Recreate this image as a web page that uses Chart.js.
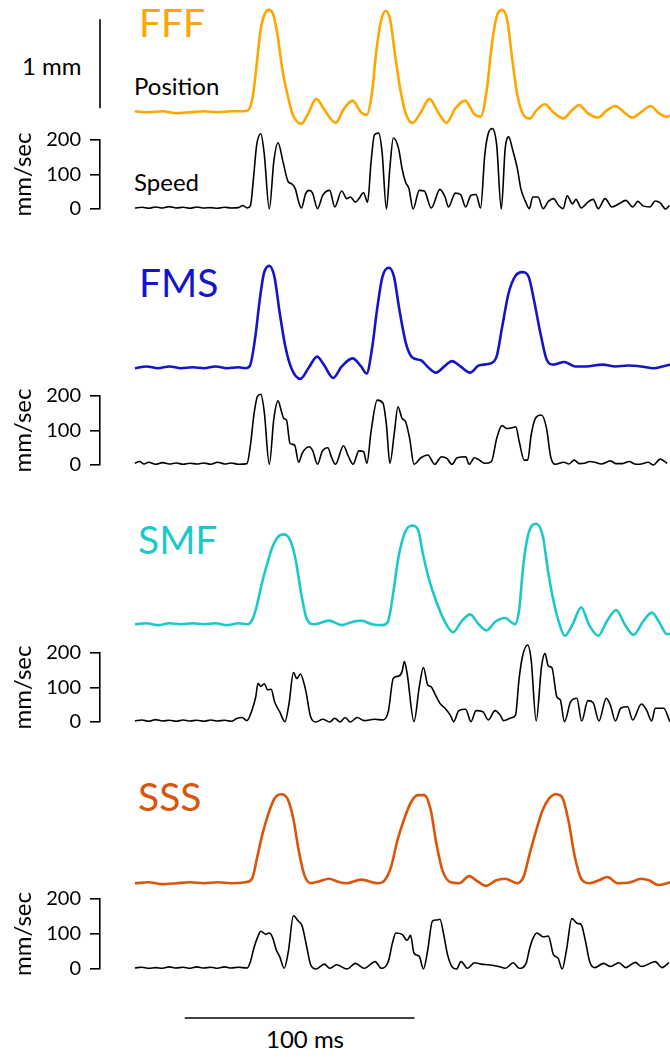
<!DOCTYPE html>
<html>
<head>
<meta charset="utf-8">
<script src="https://cdn.jsdelivr.net/npm/chart.js@4.4.1/dist/chart.umd.min.js"></script>
<style>
  body { margin: 0; background: #fff; }
  #fig { position: relative; width: 670px; height: 1057px; overflow: hidden; font-family: Lato, sans-serif; }
  #fig canvas { position: absolute; left: 0; }
  .lbl { position: absolute; line-height: 1; white-space: nowrap; color: #000; }
  .cond { font-size: 39px; }
  .small { font-size: 24px; }
</style>
</head>
<body>
<div id="fig">
  <div class="lbl cond" style="left:139px;top:3px;color:#FFA600">FFF</div>
  <div class="lbl cond" style="left:139px;top:263px;color:#1414C8">FMS</div>
  <div class="lbl cond" style="left:138px;top:520px;color:#1FC8C8">SMF</div>
  <div class="lbl cond" style="left:138px;top:777px;color:#D9550B">SSS</div>
  <div class="lbl small" style="left:134px;top:74px">Position</div>
  <div class="lbl small" style="left:134px;top:170px">Speed</div>
  <div class="lbl small" style="left:22px;top:54px">1 mm</div>
  <div class="lbl small" style="left:305px;top:1027px;transform:translateX(-50%)">100 ms</div>
</div>
<script>
// [time ms, position mm]
var fffPosition = [[0,0.01],[6,0],[12,0.01],[18,-0.01],[24,0],[30,0.01],[36,0],[42,0.01],[47,0.01],[49.1,0.02],[51.2,0.17],[52.8,0.51],[54.6,0.92],[56.5,1.11],[58.4,1.15],[60.2,1.09],[62.1,0.85],[63.9,0.51],[66.2,0.21],[68.5,-0.02],[72.3,-0.13],[75,-0.03],[78.8,0.15],[82.5,0.02],[87.2,-0.12],[90.9,0.04],[94.6,0.13],[98.3,0],[100.7,-0.03],[103,0.21],[104.8,0.66],[107,1.03],[109.1,1.14],[111,1.03],[113.2,0.62],[115.4,0.25],[117.8,-0.02],[120.6,-0.12],[124.3,0],[128,0.15],[131.8,0],[135.4,-0.12],[139.2,0.04],[143.5,0.13],[147.5,-0.02],[150.3,-0.05],[153.1,0.28],[155,0.73],[157.2,1.07],[159.6,1.15],[161.9,1.03],[163.9,0.62],[166.1,0.21],[168.9,-0.03],[171.7,-0.07],[174.5,0.02],[178.2,0.09],[181.9,0],[186.2,-0.07],[189.9,0.02],[193.1,0.08],[196.8,-0.01],[201.4,-0.06],[205.1,0.02],[208.9,0.07],[212.6,0],[216.3,-0.06],[220,0],[224.1,0.07],[227.8,-0.01],[231.2,-0.05],[232.7,-0.04]];
var fmsPosition = [[0,0],[5,0.02],[10,0],[15,0.02],[20,0],[25,0.01],[30,0],[35,0.02],[40,0],[45,0.01],[48,0],[50,0.03],[52.3,0.35],[54.2,0.76],[56,1.06],[58.4,1.15],[60.6,1.03],[63,0.61],[65.4,0.24],[68,0],[71.9,-0.12],[75.4,0],[79.2,0.13],[82.1,0.04],[86.2,-0.11],[89.9,0.02],[94.6,0.11],[98.3,0.02],[100.7,-0.06],[103,0.21],[105.2,0.65],[107.6,1.03],[110.4,1.13],[112.6,1.03],[115,0.65],[117.8,0.28],[120.6,0.12],[124.3,0.09],[127.1,0.02],[130.8,-0.05],[134.5,0.02],[137.8,0.08],[141.5,0.02],[145.7,-0.05],[149.4,0.03],[154,0.05],[157.2,0.13],[159.6,0.46],[162.4,0.84],[165.2,1.03],[168.4,1.08],[171.1,1.03],[173.5,0.76],[176.3,0.39],[179.1,0.09],[181.9,0.04],[186.6,0.07],[191.3,0.02],[195.9,0.02],[203.3,0.04],[208.9,0.02],[214.4,0.03],[220,0.02],[225.6,0],[229.3,0.02],[232.7,0.04]];
var smfPosition = [[0,0],[5,0.01],[10,-0.01],[15,0.01],[20,0],[25,0.01],[30,0],[35,0.01],[40,-0.01],[45,0.01],[49,0],[50.9,0.045],[52.8,0.19],[55,0.44],[57.5,0.68],[59.8,0.87],[62.1,0.98],[64.9,1.01],[67.7,0.93],[69.9,0.72],[72.3,0.34],[74.7,0.06],[77.9,0],[84.4,0.04],[89.9,-0.01],[93.7,0.02],[98.3,0.04],[103,0],[107.6,-0.01],[110,0.03],[112.2,0.34],[114.6,0.76],[117.5,1.04],[120.6,1.11],[123.1,1.06],[125.2,0.79],[128,0.49],[130.8,0.27],[134.5,0.04],[138.3,-0.09],[141.9,0.03],[145.7,0.11],[149.4,0],[152.7,-0.07],[156.8,0.03],[160.9,0.07],[165.2,0],[167,0.16],[168.9,0.68],[171.1,1.02],[174.5,1.13],[177.4,0.98],[179.5,0.61],[181.9,0.27],[184.7,-0.01],[186.9,-0.13],[190.3,0],[194,0.19],[197.3,0],[201.4,-0.13],[205.1,0.03],[209.2,0.16],[212.9,0],[216.7,-0.12],[220.9,0.03],[224.7,0.13],[228.4,0],[231.2,-0.11],[232.7,-0.11]];
var sssPosition = [[0,0],[6,0.01],[12,-0.01],[18,0],[24,0.01],[30,0],[36,0.01],[42,0],[48,0.01],[50.9,0.05],[53.2,0.3],[55.5,0.56],[58,0.78],[60.6,0.95],[63.6,1.0],[66.3,0.95],[68.8,0.73],[71.3,0.35],[73.8,0.08],[76.6,0],[80,0.02],[84.4,0.05],[88,0.02],[91.8,0],[98.3,0.04],[105.7,0],[108.5,0.03],[111.3,0.18],[114.1,0.48],[116.9,0.71],[120,0.91],[123,0.99],[125.8,0.99],[128.6,0.82],[130.8,0.48],[133.6,0.15],[137.3,0.01],[141,0],[145.3,0.08],[149,0.02],[152.7,-0.03],[156.8,0.03],[160.9,0.05],[166.1,0],[168.9,0.07],[171.7,0.34],[174.5,0.6],[177.2,0.82],[180,0.95],[182.9,1.0],[185.6,0.97],[188.4,0.71],[191.2,0.3],[194,0.05],[197.7,0],[201.4,0.03],[205.5,0.07],[209.8,0],[215.4,0.01],[220,0.05],[223.7,0.03],[227.4,-0.02],[232.7,0.01]];

// [time ms, speed mm/sec]
var fffSpeed = [[0,3],[3,5],[6,2],[9,6],[12,3],[15,7],[18,3],[21,5],[24,2],[27,6],[30,3],[33,4],[36,2],[39,5],[42,3],[45,4],[47,10],[48.8,3],[50.3,10],[51.5,80],[53,185],[54.8,218],[56.3,160],[58.5,0],[60.5,140],[62.3,192],[64.5,136],[66.8,78],[68.3,73],[69.8,59],[71.3,20],[72.5,3],[74.3,44],[75.8,54],[77.3,47],[79.5,1],[81.8,40],[84.8,54],[87,6],[90,52],[92.3,30],[93.8,35],[96,20],[97.5,30],[99.5,47],[101.3,20],[102.8,136],[104.3,215],[106.1,220],[107.6,165],[109.5,0],[111,120],[112.5,206],[114.8,175],[116.3,117],[117.8,78],[119.3,59],[121.1,0],[123.8,54],[126,52],[129,3],[132.8,57],[135,35],[136.5,6],[139.5,46],[141.8,42],[144,6],[146.3,40],[148.5,42],[150.5,3],[152.3,156],[153.8,218],[155.6,233],[157.5,185],[159.5,0],[161.2,175],[162.7,209],[164.5,170],[166.5,117],[168,59],[170,22],[171.7,1],[173.2,35],[175.5,35],[177.7,1],[180,22],[182.2,30],[184.5,10],[186.4,1],[188.2,38],[190.5,15],[192,28],[194.3,3],[197.2,20],[199.5,28],[201.7,1],[204.7,30],[207.7,6],[210.7,15],[213.7,25],[216.7,6],[219,22],[221.2,9],[224.2,6],[226.5,23],[228.7,18],[231,0],[232.7,10]];
var fmsSpeed = [[0,5],[2,10],[4,3],[6,8],[9,2],[12,7],[15,3],[18,6],[21,2],[24,5],[27,3],[30,6],[33,2],[36,8],[39,3],[42,6],[45,2],[48.8,4],[50.3,58],[51.8,145],[53.3,198],[54.8,205],[56.3,155],[58.5,2],[60.5,135],[62.3,186],[63.8,155],[64.8,135],[66,130],[67.5,63],[69.5,58],[71.3,8],[72.8,34],[75.8,53],[77.3,43],[79.5,2],[81.5,39],[84,50],[85.5,24],[87.3,2],[90.8,56],[93,24],[95,2],[97.5,41],[99.5,39],[101,5],[102.8,97],[105.5,188],[108,179],[109.5,116],[111,5],[113,97],[114.5,169],[116.3,135],[117.8,126],[119.6,77],[121.5,2],[124.5,21],[127.5,29],[130.5,2],[133.5,24],[135.8,19],[138,2],[140.3,21],[144,24],[145.5,2],[147.8,21],[150,14],[152.3,5],[155.2,10],[157.5,77],[159.8,114],[162,106],[164.3,108],[165.8,111],[167.3,68],[169.5,14],[171,14],[172.5,87],[174.5,137],[177,145],[179.2,106],[181,24],[183,2],[186.7,8],[189,3],[191.2,14],[193.5,4],[195.7,5],[198,10],[200.2,8],[203,3],[207,12],[209.5,4],[212.2,4],[215.2,10],[217.5,3],[219.7,2],[223.5,8],[225.7,0],[228.7,17],[231.7,5]];
var smfSpeed = [[0,3],[3,6],[6,2],[9,7],[12,3],[15,5],[18,2],[21,6],[24,3],[27,5],[30,2],[33,6],[36,3],[39,5],[42,2],[44.3,10],[46.6,13],[48.8,4],[51,35],[52.6,73],[53.6,112],[54.8,103],[56.3,111],[57.8,93],[59.3,95],[60.8,59],[63,30],[65.3,1],[67.1,54],[69,143],[70.5,126],[72,139],[74.3,93],[76.5,15],[78.8,0],[81.8,8],[84.8,0],[87,11],[89.3,0],[91.5,13],[93.8,0],[96.8,13],[99.8,4],[104.3,8],[108,6],[110.3,30],[112.5,127],[114.8,133],[116.3,146],[117.3,175],[118.5,141],[121.5,1],[123.8,102],[125.6,158],[127.5,107],[129,102],[130.5,83],[132.8,54],[135,40],[137.3,20],[138.8,1],[141,33],[144,37],[146.3,1],[148.5,33],[151.5,30],[153.8,6],[156.8,33],[159,20],[160.5,4],[164.2,13],[165.7,20],[167.2,122],[168.7,189],[171,223],[172.5,180],[174.7,3],[177,160],[178.5,199],[180,162],[181.5,158],[183.7,73],[185.2,64],[187,1],[189.7,59],[192.4,69],[194.5,3],[197.2,62],[199.5,56],[202,3],[205.2,69],[207,49],[209.2,3],[211.5,40],[214.5,44],[216.7,6],[220.5,52],[222.7,35],[225,3],[226.5,40],[230.2,40],[232.9,1]];
var sssSpeed = [[0,3],[3,5],[6,2],[9,4],[12,2],[15,6],[18,3],[21,5],[24,2],[27,6],[30,3],[33,5],[36,2],[39,6],[42,3],[45,5],[48.8,3],[50.3,21],[51.8,60],[53.3,89],[54.8,108],[57,99],[58.5,103],[60,89],[61.5,55],[63,36],[65,2],[66.8,50],[69,152],[71,138],[72.8,123],[74.6,70],[76.5,12],[78.8,0],[82.5,14],[84.8,2],[87.8,12],[92.3,0],[96,16],[99.8,2],[104.6,21],[107.3,2],[110.3,21],[112.1,74],[113.6,103],[116.3,99],[118.5,82],[120,96],[121.5,45],[123.8,36],[125.6,0],[127.5,55],[129.5,137],[131.3,140],[132.8,142],[134.3,103],[136.1,41],[138,7],[140,0],[142,21],[144.8,2],[147.8,18],[150.8,14],[153.8,12],[158.3,7],[161.3,2],[164.7,18],[167.3,2],[170.3,16],[171.7,55],[173.2,86],[175,103],[177.7,92],[180,94],[182.2,41],[184.2,31],[186,0],[187.9,55],[190.2,144],[192.7,130],[194.2,128],[196,84],[198,21],[200.2,4],[204,16],[207,7],[210.7,18],[213.7,4],[217.9,19],[220.5,7],[226.5,21],[229.5,4],[232.5,18]];

var speedTicks = [0, 100, 200];
var scaleBarMm = 1;      // vertical scale bar
var scaleBarMs = 100;    // horizontal scale bar

// layout
var W = 670, AXIS_W = 100;
var T_MIN = -15.2, T_MAX = 232.6;
var POS_MIN = -0.2, POS_MAX = 1.25, POS_H = 129;

var panels = [
  { color: '#FFA600', pos: fffPosition, speed: fffSpeed, posTop: 1,   spTop: 140, spZero: 209 },
  { color: '#1414C8', pos: fmsPosition, speed: fmsSpeed, posTop: 257, spTop: 396, spZero: 465 },
  { color: '#1FC8C8', pos: smfPosition, speed: smfSpeed, posTop: 513, spTop: 653, spZero: 722 },
  { color: '#D9550B', pos: sssPosition, speed: sssSpeed, posTop: 772, spTop: 899, spZero: 969 }
];

var fig = document.getElementById('fig');

function addCanvas(top, height) {
  var c = document.createElement('canvas');
  c.width = W; c.height = height;
  c.style.top = top + 'px';
  fig.appendChild(c);
  return c;
}

function toXY(arr) {
  return arr.map(function(p) { return { x: p[0], y: p[1] }; });
}

var mmBar = {
  id: 'mmBar',
  afterDraw: function(chart) {
    var ctx = chart.ctx, y = chart.scales.y;
    var x = chart.chartArea.left;
    ctx.save();
    ctx.strokeStyle = '#000'; ctx.lineWidth = 1.6;
    ctx.beginPath();
    ctx.moveTo(x, y.getPixelForValue(0.045));
    ctx.lineTo(x, y.getPixelForValue(0.045 + scaleBarMm));
    ctx.stroke();
    ctx.restore();
  }
};

var msBar = {
  id: 'msBar',
  afterDraw: function(chart) {
    var ctx = chart.ctx, x = chart.scales.x;
    var y = chart.chartArea.bottom + 49;
    ctx.save();
    ctx.strokeStyle = '#000'; ctx.lineWidth = 1.6;
    ctx.beginPath();
    ctx.moveTo(x.getPixelForValue(21.7), y);
    ctx.lineTo(x.getPixelForValue(21.7 + scaleBarMs), y);
    ctx.stroke();
    ctx.restore();
  }
};

panels.forEach(function(p, i) {
  // position trace
  new Chart(addCanvas(p.posTop, POS_H), {
    type: 'line',
    data: { datasets: [{ data: toXY(p.pos), borderColor: p.color, borderWidth: 2.6,
      pointRadius: 0, cubicInterpolationMode: 'monotone', clip: false }] },
    options: {
      responsive: false, maintainAspectRatio: false, animation: false, events: [],
      layout: { padding: { left: AXIS_W, right: 0, top: 0, bottom: 0 } },
      plugins: { legend: { display: false }, tooltip: { enabled: false } },
      scales: {
        x: { type: 'linear', min: T_MIN, max: T_MAX, display: false },
        y: { min: POS_MIN, max: POS_MAX, display: false }
      }
    },
    plugins: i === 0 ? [mmBar] : []
  });

  // speed trace
  var last = i === panels.length - 1;
  var padB = last ? 90 : 14;
  var want = p.spZero - p.spTop;
  var cv = addCanvas(p.spTop - 14, want + 14 + padB);
  var ch = new Chart(cv, {
    type: 'line',
    data: { datasets: [{ data: toXY(p.speed), borderColor: '#000', borderWidth: 1.6,
      pointRadius: 0, cubicInterpolationMode: 'monotone', clip: false }] },
    options: {
      responsive: false, maintainAspectRatio: false, animation: false, events: [],
      layout: { padding: { left: 0, right: 0, top: 14, bottom: padB } },
      plugins: { legend: { display: false }, tooltip: { enabled: false } },
      scales: {
        x: { type: 'linear', min: T_MIN, max: T_MAX, display: false },
        y: {
          min: speedTicks[0], max: speedTicks[speedTicks.length - 1],
          afterFit: function(axis) { axis.width = AXIS_W; },
          afterBuildTicks: function(axis) { axis.ticks = speedTicks.map(function(v) { return { value: v }; }); },
          border: { display: true, color: '#000', width: 1.6 },
          grid: { drawOnChartArea: false, drawTicks: true, tickLength: 10, color: '#000', lineWidth: 1.6 },
          ticks: { color: '#000', font: { family: 'Lato', size: 20 }, padding: 9 },
          title: { display: true, text: 'mm/sec', color: '#000',
            font: { family: 'Lato', size: 24 }, padding: { top: 9, bottom: 0 } }
        }
      }
    },
    plugins: last ? [msBar] : []
  });
  // the label padding eats into the plot, so stretch the canvas until 0..200 spans the measured pixels
  var got = ch.chartArea.bottom - ch.chartArea.top;
  if (Math.abs(got - want) > 0.5) ch.resize(W, ch.height + (want - got));
  cv.style.top = (p.spTop - ch.chartArea.top) + 'px';
});
</script>
</body>
</html>
